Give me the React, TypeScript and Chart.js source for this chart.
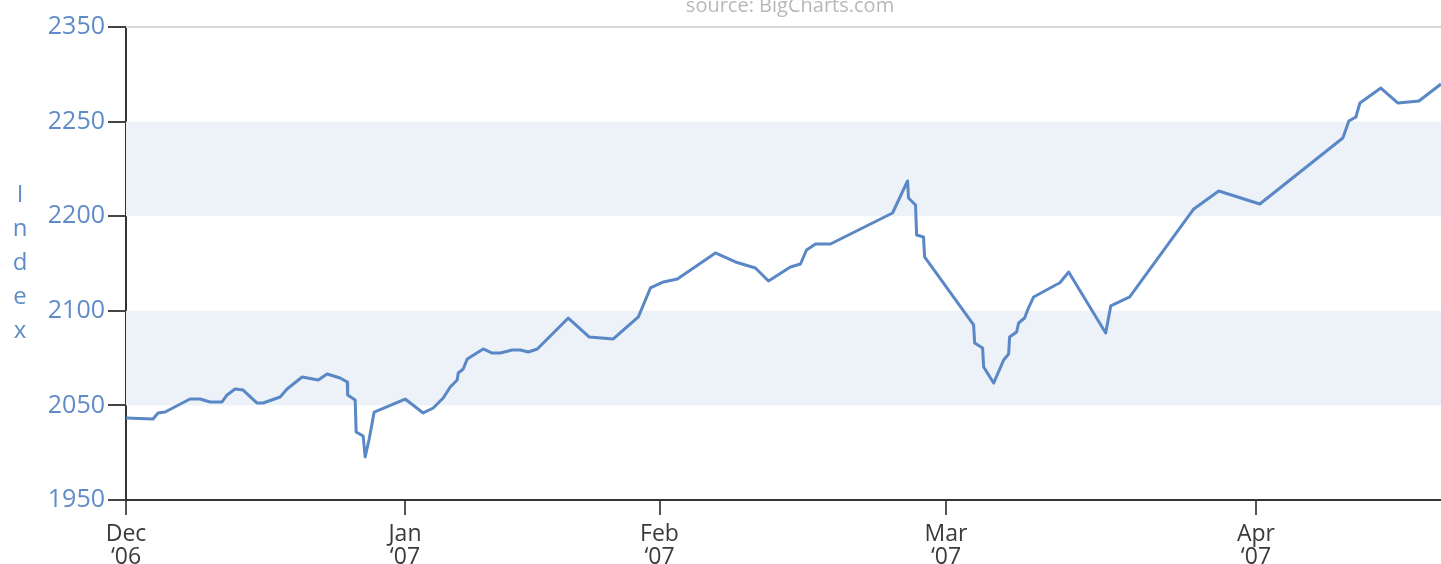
import React, { useEffect, useRef } from "react";
import { Chart, registerables } from "chart.js";

Chart.register(...registerables);

// x in approximate day units from Dec 1 '06
const xValues = [
  0, 2.88, 3.41, 4.16, 6.82, 7.88, 8.95, 10.23, 10.76, 11.61, 12.47, 13.96, 14.6, 16.41, 17.15, 18.75,
  20.46, 21.41, 22.8, 23.55, 23.6, 24.4, 24.5, 25.25, 25.46, 25.89, 26.42, 29.72, 31.64, 32.71, 33.77,
  34.52, 35.26, 35.37, 35.9, 36.33, 38.03, 38.99, 39.85, 41.12, 41.98, 42.83, 43.79, 47.09, 49.33, 51.88,
  54.55, 55.83, 57.21, 58.7, 62.75, 64.88, 67.01, 68.4, 70.74, 71.81, 72.45, 73.41, 75.0, 81.61, 83.21,
  83.31, 84.06, 84.17, 84.91, 85.02, 90.24, 90.35, 91.2, 91.31, 92.37, 93.44, 93.97, 94.07, 94.82, 95.03,
  95.67, 95.99, 96.63, 98.97, 99.4, 100.36, 104.3, 104.84, 106.86, 113.68, 116.34, 120.71, 129.55, 130.19,
  130.94, 131.15, 131.37, 133.6, 135.42, 137.65, 140.0,
];

const indexValues = [
  2019.3, 2018.5, 2023.6, 2024.4, 2035.4, 2035.4, 2032.9, 2032.9, 2038.8, 2043.9, 2043.0, 2032.0, 2032.0,
  2037.1, 2043.9, 2054.0, 2051.5, 2056.6, 2053.2, 2049.8, 2038.8, 2034.6, 2007.5, 2004.1, 1986.4, 2001.6,
  2024.4, 2035.4, 2023.6, 2027.8, 2036.3, 2045.6, 2051.5, 2057.4, 2060.8, 2069.2, 2077.7, 2074.3, 2074.3,
  2076.9, 2076.9, 2075.2, 2077.7, 2103.9, 2087.8, 2086.2, 2104.8, 2129.3, 2134.4, 2136.9, 2158.9, 2151.3,
  2146.2, 2135.2, 2147.0, 2149.6, 2161.4, 2166.5, 2166.5, 2192.7, 2219.8, 2205.4, 2199.5, 2174.1, 2172.4,
  2155.5, 2098.0, 2082.8, 2078.5, 2062.5, 2048.9, 2068.4, 2073.5, 2087.8, 2092.1, 2099.7, 2103.9, 2110.7,
  2121.7, 2131.8, 2133.5, 2142.8, 2091.2, 2114.1, 2121.7, 2196.1, 2211.3, 2200.3, 2256.1, 2270.5, 2273.9,
  2279.8, 2285.7, 2298.4, 2285.7, 2287.4, 2301.8,
];

const monthPositions = [0, 29.7, 56.8, 87.3, 120.3];
const monthLabels = ["Dec", "Jan", "Feb", "Mar", "Apr"];
const yearLabels = ["\u201806", "\u201807", "\u201807", "\u201807", "\u201807"];

// the axis is drawn with evenly spaced ticks carrying these labels
const yTickValues = [1950, 2030, 2110, 2190, 2270, 2350];
const yTickLabels = ["1950", "2050", "2100", "2200", "2250", "2350"];

const bandRanges = [
  [2030, 2110],
  [2190, 2270],
];

const axisTitleLetters = ["I", "n", "d", "e", "x"];
const sourceText = "source: BigCharts.com";

const BLUE = "#5f8bc8";
const LINE = "#5a88c6";
const BAND = "#edf1f8";

const decorPlugin = {
  id: "decor",
  beforeDatasetsDraw(chart: any) {
    const { ctx, chartArea, scales } = chart;
    const y = scales.y;
    ctx.save();
    ctx.fillStyle = BAND;
    for (const [a, b] of bandRanges) {
      const y1 = y.getPixelForValue(b);
      const y2 = y.getPixelForValue(a);
      ctx.fillRect(chartArea.left, y1, chartArea.right - chartArea.left, y2 - y1);
    }
    const topY = y.getPixelForValue(yTickValues[yTickValues.length - 1]);
    ctx.strokeStyle = "#d6d6d6";
    ctx.lineWidth = 2;
    ctx.beginPath();
    ctx.moveTo(chartArea.left, topY);
    ctx.lineTo(chartArea.right, topY);
    ctx.stroke();
    ctx.restore();
  },
  afterDraw(chart: any) {
    const { ctx } = chart;
    ctx.save();
    ctx.fillStyle = BLUE;
    ctx.font = '24px "Open Sans"';
    ctx.textAlign = "center";
    ctx.textBaseline = "alphabetic";
    axisTitleLetters.forEach((ch, i) => {
      ctx.fillText(ch, 20, 202 + i * 34);
    });
    ctx.fillStyle = "#b8b8b8";
    ctx.font = '20px "Open Sans"';
    ctx.fillText(sourceText, 790, 12);
    ctx.restore();
  },
};

export default function App() {
  const canvasRef = useRef<HTMLCanvasElement | null>(null);

  useEffect(() => {
    const canvas = canvasRef.current;
    if (!canvas) return;
    const data = xValues.map((x, i) => ({ x, y: indexValues[i] }));
    const chart = new Chart(canvas, {
      type: "line",
      data: {
        datasets: [
          {
            data,
            borderColor: LINE,
            borderWidth: 3,
            pointRadius: 0,
            tension: 0,
            borderJoinStyle: "round",
            fill: false,
          },
        ],
      },
      options: {
        animation: false,
        responsive: false,
        devicePixelRatio: 1,
        layout: { padding: { top: 27, right: 0, left: 0, bottom: 0 } },
        plugins: {
          legend: { display: false },
          tooltip: { enabled: false },
        },
        scales: {
          x: {
            type: "linear",
            min: 0,
            max: 140,
            afterBuildTicks: (scale: any) => {
              scale.ticks = monthPositions.map((v) => ({ value: v }));
            },
            afterFit: (scale: any) => {
              scale.height = 64;
            },
            ticks: {
              autoSkip: false,
              maxRotation: 0,
              padding: 8,
              color: "#3a3a3a",
              font: { family: "Open Sans", size: 23, lineHeight: 1 },
              callback: (_v: any, i: number) => [monthLabels[i], yearLabels[i]],
            },
            grid: {
              drawOnChartArea: false,
              drawTicks: true,
              tickLength: 15,
              color: "#555",
              lineWidth: 2,
            },
            border: { display: true, color: "#333", width: 2 },
          },
          y: {
            type: "linear",
            min: 1950,
            max: 2350,
            afterBuildTicks: (scale: any) => {
              scale.ticks = yTickValues.map((v) => ({ value: v }));
            },
            afterFit: (scale: any) => {
              scale.width = 126;
            },
            ticks: {
              autoSkip: false,
              padding: 3,
              color: BLUE,
              font: { family: "Open Sans", size: 25 },
              callback: (_v: any, i: number) => yTickLabels[i],
            },
            grid: {
              drawOnChartArea: false,
              drawTicks: true,
              tickLength: 18,
              color: "#444",
              lineWidth: 2,
            },
            border: { display: true, color: "#333", width: 2 },
          },
        },
      },
      plugins: [decorPlugin],
    } as any);
    return () => chart.destroy();
  }, []);

  return (
    <div style={{ position: "fixed", left: 0, top: 0, width: 1441, height: 564, background: "#fff" }}>
      <canvas ref={canvasRef} width={1441} height={564} style={{ display: "block" }} />
    </div>
  );
}
